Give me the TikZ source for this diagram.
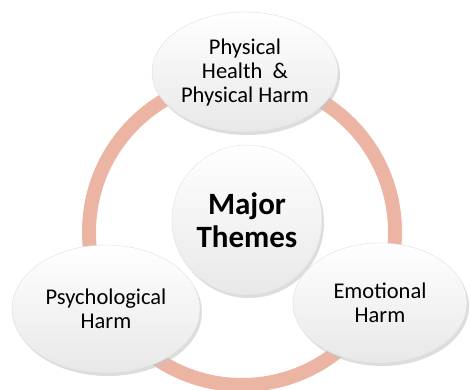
\documentclass[tikz,border=0pt]{standalone}
\usepackage{fontspec}
\setmainfont{Carlito}
\usepackage{tikz}
\usetikzlibrary{shapes,shadows,positioning}
\definecolor{ringpeach}{RGB}{236,180,162}

\begin{document}
\begin{tikzpicture}[x=1pt,y=-1pt]
		\tikzstyle{bubble_style} = [ellipse,inner sep=0pt,align=center,draw=gray!25,top color=white,bottom color=gray!18,drop shadow={shadow xshift=2pt,shadow yshift=-3pt,fill=gray!45,opacity=0.6},font=\fontsize{22.5}{24}\selectfont]
		\tikzstyle{core_style} = [circle,inner sep=0pt,align=center,draw=gray!25,top color=white,bottom color=gray!18,drop shadow={shadow xshift=2pt,shadow yshift=-3pt,fill=gray!45,opacity=0.6},font=\bfseries\fontsize{31}{33}\selectfont,minimum size=150pt]
		\tikzstyle{ring_style} = [draw=ringpeach,line width=14pt]
		\useasboundingbox (0,0) rectangle (471,389);
		\coordinate (hub) at (242,232);
		\draw[ring_style] (hub) circle (153);
		\node[core_style] (themes) at (247,220) {Major\\Themes};
		\node[bubble_style,minimum width=186pt,minimum height=120pt] (physical) at (245,72) {Physical\\Health~~\&\\Physical Harm};
		\node[bubble_style,minimum width=188pt,minimum height=128pt] (psych) at (106,309) {Psychological\\Harm};
		\node[bubble_style,minimum width=174pt,minimum height=120pt] (emotion) at (380,303) {Emotional\\Harm};
\end{tikzpicture}
\end{document}
